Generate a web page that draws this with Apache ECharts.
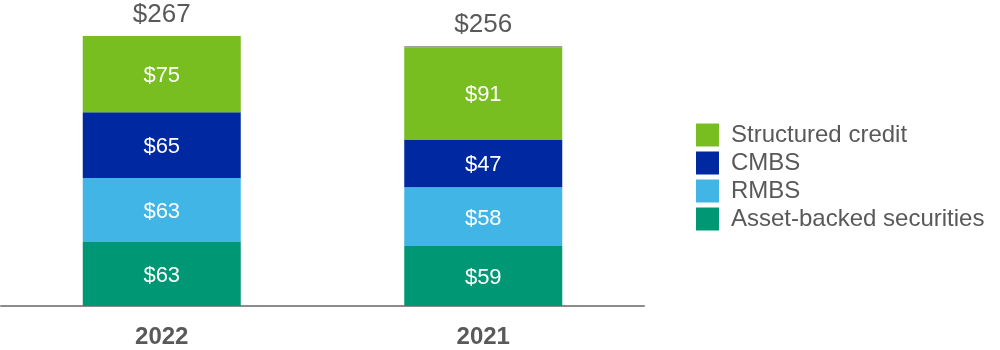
<!DOCTYPE html>
<html>
<head>
<meta charset="utf-8">
<script src="https://cdn.jsdelivr.net/npm/echarts@6/dist/echarts.min.js"></script>
<style>
html,body{margin:0;padding:0;background:#fff;}
#c{width:1000px;height:350px;}
</style>
</head>
<body>
<div id="c"></div>
<script>
const categories = ['2022', '2021'];
const assetBacked = [63, 59];
const rmbs = [63, 58];
const cmbs = [65, 47];
const structuredCredit = [75, 91];
const other = [0, 1];
const totals = [267, 256];

const chart = echarts.init(document.getElementById('c'));
const font = 'Liberation Sans, Arial, sans-serif';
function seg(name, data, color) {
  return {
    name: name, type: 'bar', stack: 'a', data: data, barWidth: 158,
    itemStyle: { color: color },
    label: { show: true, position: 'inside', offset: [0, 2], color: '#fff', fontSize: 22, fontFamily: font,
      formatter: p => '$' + p.value }
  };
}
chart.setOption({
  animation: false,
  grid: { left: 1, right: 356, top: 36, bottom: 44 },
  legend: {
    orient: 'vertical', left: 691, top: 118, itemWidth: 23, itemHeight: 23, itemGap: 4,
    icon: 'rect',
    textStyle: { fontSize: 24, lineHeight: 23, color: '#595959', fontFamily: font, padding: [0, 0, 0, 7] },
    data: ['Structured credit', 'CMBS', 'RMBS', 'Asset-backed securities']
  },
  xAxis: {
    type: 'category', data: categories,
    axisLine: { lineStyle: { color: '#8c8c8c', width: 2 } },
    axisTick: { show: false },
    axisLabel: { fontSize: 24, fontWeight: 'bold', color: '#595959', fontFamily: font, margin: 19 }
  },
  yAxis: { type: 'value', min: 0, max: 266, show: false, splitLine: { show: false } },
  series: [
    seg('Asset-backed securities', assetBacked, '#009775'),
    seg('RMBS', rmbs, '#41B6E6'),
    seg('CMBS', cmbs, '#0028A0'),
    seg('Structured credit', structuredCredit, '#78BE20'),
    {
      name: 'Other', type: 'bar', stack: 'a', data: other, barWidth: 158,
      itemStyle: { color: '#7f7f7f' },
      label: { show: true, position: 'top', distance: 8, color: '#595959', fontSize: 26, fontFamily: font,
        formatter: p => '$' + totals[p.dataIndex] }
    }
  ]
});
</script>
</body>
</html>
